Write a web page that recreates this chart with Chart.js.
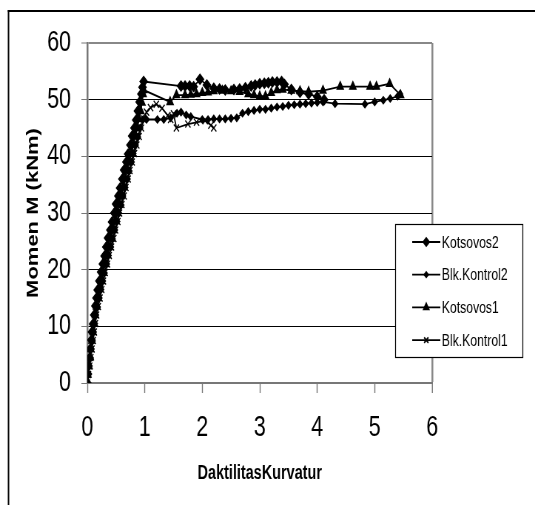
<!DOCTYPE html>
<html lang="en">
<head>
    <meta charset="UTF-8">
    <title>Momen vs Daktilitas Kurvatur</title>
    <script src="https://cdn.jsdelivr.net/npm/chart.js"></script>
    <style>
        html, body { margin: 0; padding: 0; background: #fff; overflow: hidden; }
        /* the original picture is squeezed horizontally, so the canvas is drawn wide and narrowed */
        .wrap { width: 723px; height: 505px; transform: scaleX(0.74); transform-origin: 0 0; }
    </style>
</head>
<body>
<div class="wrap"><canvas id="chart" width="723" height="505"></canvas></div>
<script>
    // tick labels
    const xTicks = [0, 1, 2, 3, 4, 5, 6];
    const yTicks = [0, 10, 20, 30, 40, 50, 60];

    // Kotsovos2
    const k2X = [0, 0.01, 0.02, 0.04, 0.05, 0.07, 0.08, 0.1, 0.12, 0.14, 0.16, 0.18, 0.21, 0.24, 0.27, 0.3, 0.33, 0.36, 0.4, 0.43,
        0.47, 0.5, 0.54, 0.57, 0.61, 0.64, 0.68, 0.71, 0.75, 0.78, 0.82, 0.85, 0.88, 0.91, 0.94, 0.96, 0.98,
        1.63, 1.7, 1.78, 1.85, 1.96, 2.08, 2.2, 2.3, 2.4, 2.55, 2.65, 2.75, 2.85, 2.92, 3.0, 3.08, 3.15, 3.22, 3.3, 3.38, 3.43,
        3.55, 3.7, 3.85, 4.0, 4.12];
    const k2Y = [0, 1.6, 3, 4.4, 6, 7.6, 9, 10.4, 12, 13.6, 15, 16.4, 18, 19.6, 21, 22.4, 24, 25.6, 27, 28.4,
        30, 31.6, 33, 34.4, 36, 37.6, 39, 40.4, 42, 43.6, 45, 46.4, 48, 49.6, 51, 52.2, 53.2,
        52.4, 52.4, 52.4, 52.3, 53.6, 52.6, 52.0, 51.9, 51.7, 51.8, 51.9, 52.1, 52.4, 52.6, 52.8, 52.9, 53.0, 53.1, 53.1, 53.2, 52.7,
        51.8, 51.3, 51.0, 50.5, 50.0];

    // Blk.Kontrol2
    const b2X = [0, 0.02, 0.03, 0.05, 0.07, 0.09, 0.11, 0.13, 0.15, 0.18, 0.21, 0.24, 0.27, 0.3, 0.34, 0.37, 0.41, 0.44, 0.48, 0.52,
        0.55, 0.59, 0.62, 0.66, 0.7, 0.73, 0.77, 0.8, 0.84, 0.88, 0.92, 0.97, 1.03,
        1.22, 1.33, 1.45, 1.56, 1.63, 1.72, 1.8, 2.0, 2.1, 2.2, 2.3, 2.4, 2.5, 2.6, 2.7, 2.8, 2.9, 3.0, 3.1, 3.2, 3.3, 3.4, 3.5,
        3.6, 3.7, 3.8, 3.9, 4.0, 4.1, 4.31, 4.83, 5.0, 5.15, 5.27, 5.4, 5.44];
    const b2Y = [0, 1.5, 3.1, 4.5, 6, 7.4, 9, 10.5, 12, 13.4, 15, 16.5, 18, 19.4, 21, 22.5, 24, 25.4, 27, 28.5,
        30, 31.4, 33, 34.5, 36, 37.4, 39, 40.5, 42, 43.4, 45, 46.5, 46.5,
        46.5, 46.5, 46.8, 47.6, 47.8, 47.3, 47.0, 46.5, 46.5, 46.6, 46.6, 46.6, 46.7, 46.8, 47.6, 47.9, 48.1, 48.3, 48.3, 48.5, 48.7, 48.8, 49.0,
        49.1, 49.2, 49.3, 49.4, 49.5, 49.6, 49.3, 49.2, 49.6, 49.9, 50.2, 50.6, 51.0];

    // Kotsovos1
    const k1X = [0, 0.01, 0.03, 0.05, 0.06, 0.08, 0.1, 0.12, 0.14, 0.16, 0.19, 0.22, 0.25, 0.28, 0.31, 0.35, 0.38, 0.42, 0.45, 0.49,
        0.52, 0.56, 0.59, 0.63, 0.66, 0.7, 0.73, 0.77, 0.8, 0.84, 0.87, 0.9, 0.93, 0.95, 0.97, 0.98,
        1.44, 1.55, 1.7, 1.8, 1.9, 2.0, 2.1, 2.2, 2.35, 2.5, 2.65, 2.8, 2.9, 3.0, 3.1, 3.2, 3.3, 3.4, 3.55, 3.7, 3.85, 4.1,
        4.4, 4.62, 4.92, 5.03, 5.26, 5.45];
    const k1Y = [0, 1.5, 3, 4.6, 6, 7.5, 9, 10.6, 12, 13.5, 15, 16.6, 18, 19.5, 21, 22.6, 24, 25.5, 27, 28.6,
        30, 31.5, 33, 34.6, 36, 37.5, 39, 40.6, 42, 43.5, 45, 46.6, 48, 49.5, 51, 51.7,
        49.6, 50.8, 50.8, 50.9, 51.0, 51.2, 51.3, 51.5, 51.6, 51.5, 51.4, 51.0, 50.8, 50.6, 50.6, 51.2, 51.7, 51.8, 51.6, 51.5, 51.4, 51.6,
        52.3, 52.3, 52.3, 52.3, 52.8, 50.8];

    // Blk.Kontrol1
    const b1X = [0, 0.02, 0.04, 0.06, 0.08, 0.1, 0.12, 0.14, 0.16, 0.19, 0.22, 0.25, 0.28, 0.31, 0.35, 0.38, 0.42, 0.46, 0.49, 0.53,
        0.56, 0.6, 0.64, 0.67, 0.71, 0.74, 0.78, 0.82, 0.86, 0.9, 0.94, 0.98,
        1.03, 1.1, 1.2, 1.3, 1.4, 1.45, 1.5, 1.55, 1.75, 1.9, 2.05, 2.15, 2.2];
    const b1Y = [0, 1.5, 3, 4.5, 6, 7.5, 9, 10.5, 12, 13.5, 15, 16.5, 18, 19.5, 21, 22.5, 24, 25.5, 27, 28.5,
        30, 31.5, 33, 34.5, 36, 37.5, 39, 40.5, 42, 43.5, 45, 46.6,
        47.8, 48.6, 49.2, 48.5, 47.2, 46.5, 47.5, 45.0, 45.7, 46.0, 46.3, 45.5, 45.0];

    const seriesNames = ['Kotsovos2', 'Blk.Kontrol2', 'Kotsovos1', 'Blk.Kontrol1'];

    function pts(xs, ys) {
        return xs.map((x, i) => ({ x: x, y: ys[i] }));
    }

    const styles = [
        { pointStyle: 'rectRot', radius: 5 },
        { pointStyle: 'rectRot', radius: 3.6 },
        { pointStyle: 'triangle', radius: 5 },
        { pointStyle: 'crossRot', radius: 5 }
    ];

    const datasets = [pts(k2X, k2Y), pts(b2X, b2Y), pts(k1X, k1Y), pts(b1X, b1Y)].map((d, i) => ({
        label: seriesNames[i],
        data: d,
        showLine: true,
        borderColor: '#000',
        backgroundColor: '#000',
        borderWidth: 1.8,
        pointStyle: styles[i].pointStyle,
        pointRadius: styles[i].radius,
        pointBorderWidth: 1.4,
        pointBackgroundColor: '#000',
        pointBorderColor: '#000'
    }));

    const sans = '"Liberation Sans", Arial, sans-serif';

    // outer frame of the picture
    const framePlugin = {
        id: 'frame',
        beforeDraw(chart) {
            const ctx = chart.ctx;
            ctx.save();
            ctx.fillStyle = '#000';
            ctx.fillRect(10.5, 10, 713, 2);
            ctx.fillRect(10.5, 10, 2, 495);
            ctx.restore();
        }
    };

    // legend box drawn over the plot area
    const legendPlugin = {
        id: 'boxLegend',
        afterDraw(chart) {
            const ctx = chart.ctx;
            ctx.save();
            ctx.fillStyle = '#fff';
            ctx.fillRect(534, 224, 173, 133);
            ctx.strokeStyle = '#000';
            ctx.lineWidth = 1.2;
            ctx.strokeRect(534.5, 224.5, 172, 133);
            chart.data.datasets.forEach((ds, i) => {
                const cy = 242 + i * 32.7;
                ctx.strokeStyle = '#000';
                ctx.fillStyle = '#000';
                ctx.lineWidth = 1.8;
                ctx.beginPath();
                ctx.moveTo(557, cy);
                ctx.lineTo(595, cy);
                ctx.stroke();
                Chart.helpers.drawPoint(ctx, { pointStyle: ds.pointStyle, radius: ds.pointRadius - 1, borderWidth: 1.3, rotation: 0 }, 576, cy);
                ctx.font = '16.5px ' + sans;
                ctx.textBaseline = 'middle';
                ctx.textAlign = 'left';
                ctx.fillText(ds.label, 597, cy + 1);
            });
            ctx.restore();
        }
    };

    new Chart(document.getElementById('chart'), {
        type: 'scatter',
        data: { datasets: datasets },
        plugins: [framePlugin, legendPlugin],
        options: {
            responsive: false,
            animation: false,
            layout: { padding: { left: 11, top: 43, right: 139, bottom: 0 } },
            plugins: {
                legend: { display: false },
                tooltip: { enabled: false }
            },
            scales: {
                x: {
                    type: 'linear',
                    min: 0,
                    max: 6,
                    afterBuildTicks: s => { s.ticks = xTicks.map(v => ({ value: v })); },
                    afterFit: s => { s.height = 122; },
                    ticks: { color: '#000', font: { family: sans, size: 29 }, padding: 18 },
                    grid: {
                        color: c => c.tick && c.tick.value === 6 ? '#888' : 'rgba(0,0,0,0)',
                        lineWidth: c => c.tick && c.tick.value === 6 ? 2.5 : 1,
                        tickColor: '#777',
                        tickWidth: 1.4,
                        tickLength: 10
                    },
                    border: { display: true, color: '#777', width: 2 },
                    title: {
                        display: true,
                        text: 'DaktilitasKurvatur',
                        color: '#000',
                        font: { family: sans, size: 19.5, weight: 'bold' },
                        padding: { top: 0, bottom: 20 }
                    }
                },
                y: {
                    min: 0,
                    max: 60,
                    afterBuildTicks: s => { s.ticks = yTicks.map(v => ({ value: v })); },
                    afterFit: s => { s.width = 107; },
                    ticks: { color: '#000', font: { family: sans, size: 29 }, padding: 14 },
                    grid: {
                        color: c => c.tick && (c.tick.value === 0 || c.tick.value === 60) ? '#888' : '#000',
                        lineWidth: c => c.tick && c.tick.value === 60 ? 2 : 1,
                        tickColor: '#777',
                        tickWidth: 1,
                        tickLength: 8
                    },
                    border: { display: true, color: '#777', width: 2.5 },
                    title: {
                        display: true,
                        text: 'Momen M (kNm)',
                        color: '#000',
                        font: { family: sans, size: 22, weight: 'bold' },
                        padding: { top: 21, bottom: 0 }
                    }
                }
            }
        }
    });
</script>
</body>
</html>
